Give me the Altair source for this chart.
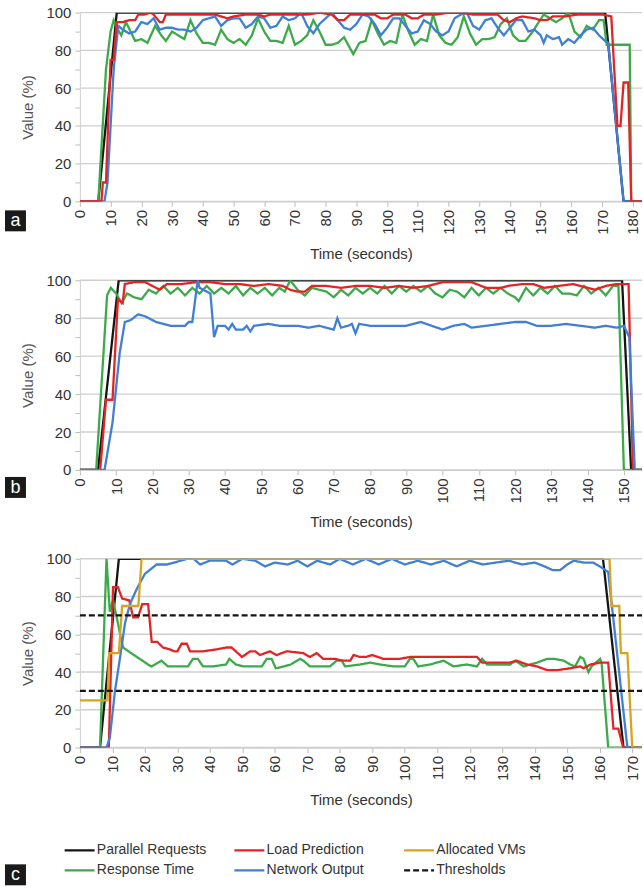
import altair as alt
import pandas as pd

# order chosen so the 3-column legend reads row by row like the reference
SERIES = ["Parallel Requests", "Response Time", "Load Prediction",
          "Network Output", "Allocated VMs", "Thresholds"]
COLORS = ["#141414", "#3caa4a", "#e42424", "#3f80d6", "#d8a420", "#141414"]
DASHES = [[1, 0], [1, 0], [1, 0], [1, 0], [1, 0], [6, 3]]
WIDTHS = [2.3, 2.3, 2.3, 2.3, 2.3, 3.2]

Y_TICKS = [0, 10, 20, 30, 40, 50, 60, 70, 80, 90, 100]
GRID = [0, 20, 40, 60, 80, 100]
A_TICKS = [0, 10, 20, 30, 40, 50, 60, 70, 80, 90, 100, 110, 120, 130, 140, 150, 160, 170, 180]
B_TICKS = [0, 10, 20, 30, 40, 50, 60, 70, 80, 90, 100, 110, 120, 130, 140, 150]
C_TICKS = [0, 10, 20, 30, 40, 50, 60, 70, 80, 90, 100, 110, 120, 130, 140, 150, 160, 170]

# ---------------- panel a ----------------
A_PAR = [(0, 0), (6, 0), (12, 100), (171, 100), (177, 0), (183, 0)]
A_LOAD = [(0, 0), (7, 0), (7.5, 10), (8.5, 10), (10, 75), (11, 75), (12, 95), (14, 95), (16, 96),
          (18, 96), (19, 99), (21, 99), (23, 100), (24, 99), (26, 95), (27, 95), (28, 99), (32, 99),
          (36, 99), (40, 99), (44, 99), (46, 98), (48, 97), (50, 98), (54, 99), (58, 99), (60, 98),
          (62, 99), (66, 99), (70, 99), (74, 99), (78, 100), (82, 99), (84, 96), (86, 96), (88, 99),
          (92, 99), (96, 99), (98, 97), (100, 97), (102, 99), (106, 99), (108, 97), (110, 97),
          (112, 99), (116, 99), (120, 100), (124, 100), (128, 99), (132, 99), (136, 99), (138, 96),
          (140, 95), (142, 97), (144, 98), (148, 97), (150, 96), (152, 96), (154, 98), (158, 98),
          (162, 99), (166, 99), (170, 99), (173, 98), (175, 40), (176, 40), (177, 63), (178.5, 63),
          (179.5, 0), (183, 0)]
A_RESP = [(0, 0), (6, 0), (8.5, 70), (10, 90), (11, 96), (12, 92), (13.5, 88), (15, 95), (16.5, 90),
          (18, 85), (20, 86), (22, 84), (24.5, 93), (26.5, 88), (28, 85), (30, 90), (32, 88), (34, 86),
          (36, 96), (38, 89), (40, 84), (42, 84), (44, 83), (46, 91), (48, 86), (50, 84), (52, 86),
          (54, 83), (56, 88), (58, 97), (60, 90), (62, 85), (64, 85), (66, 84), (68, 93), (70, 83),
          (72, 85), (74, 88), (76, 96), (78, 90), (80, 83), (82, 83), (84, 84), (86, 87), (88, 81),
          (89, 78), (91, 84), (93, 85), (95, 96), (97, 89), (99, 83), (101, 85), (103, 84), (105, 99),
          (107, 90), (109, 83), (111, 86), (113, 85), (115, 99), (117, 88), (119, 84), (121, 83),
          (123, 87), (125, 98), (127, 89), (129, 83), (131, 86), (133, 86), (135, 87), (137, 94),
          (139, 97), (141, 88), (143, 85), (145, 85), (147, 89), (149, 94), (151, 99), (153, 97),
          (155, 95), (157, 97), (159, 100), (161, 90), (163, 87), (165, 93), (167, 91), (169, 96),
          (170.5, 96), (171.5, 83), (179, 83), (179.5, 0), (183, 0)]
A_NET = [(0, 0), (8, 0), (9, 10), (11, 70), (12.5, 93), (14, 91), (16, 89), (18, 90), (20, 95),
         (22, 94), (24, 97), (26, 91), (28, 92), (30, 92), (32, 91), (34, 91), (36, 90), (38, 92),
         (40, 96), (42, 97), (44, 98), (46, 93), (48, 96), (50, 97), (52, 97), (54, 92), (56, 94),
         (58, 98), (60, 97), (62, 92), (64, 93), (66, 98), (68, 96), (70, 97), (72, 100), (74, 93),
         (76, 89), (78, 94), (80, 97), (82, 100), (84, 96), (86, 92), (88, 91), (90, 94), (92, 99),
         (94, 98), (96, 94), (98, 88), (100, 92), (102, 97), (104, 97), (106, 93), (108, 89),
         (110, 90), (112, 96), (114, 94), (116, 90), (118, 88), (120, 90), (122, 97), (124, 99),
         (126, 100), (128, 93), (130, 91), (132, 96), (134, 97), (136, 92), (138, 88), (140, 92),
         (142, 96), (144, 96), (146, 90), (148, 91), (150, 88), (151, 84), (152, 88), (154, 86),
         (156, 87), (157, 83), (159, 86), (161, 84), (163, 88), (165, 91), (167, 92), (169, 88),
         (171, 85), (172, 84), (177, 0), (183, 0)]

# ---------------- panel b ----------------
B_PAR = [(0, 0), (5, 0), (10.7, 100), (149.5, 100), (152, 0), (155, 0)]
B_LOAD = [(0, 0), (5.6, 0), (7.2, 37), (9, 37), (10.5, 90), (11.8, 88), (12.4, 98), (15, 99),
          (18, 99), (20, 97), (22, 95), (24, 98), (28, 98), (32, 99), (36, 99), (40, 98), (44, 98),
          (48, 97), (52, 98), (56, 97), (58, 95), (60, 94), (62, 94), (64, 97), (68, 97), (72, 96),
          (76, 97), (80, 97), (84, 96), (88, 97), (92, 96), (96, 97), (100, 99), (104, 99),
          (108, 99), (112, 96), (116, 96), (118, 97), (122, 98), (125, 98), (128, 96), (132, 97),
          (136, 98), (140, 96), (142, 95), (145, 97), (148, 98), (151.3, 98), (152.5, 0), (155, 0)]
B_RESP = [(0, 0), (4.5, 0), (7.5, 92), (8.5, 96), (10, 93), (11.5, 88), (13, 93), (15, 91),
          (17, 90), (19, 95), (21, 93), (23, 97), (25, 93), (27, 96), (29, 92), (31, 96), (33, 93),
          (35, 97), (37, 93), (39, 96), (41, 93), (43, 97), (45, 92), (47, 96), (49, 93), (51, 96),
          (53, 92), (55, 96), (56.5, 94), (58, 100), (60, 95), (62, 92), (64, 96), (66, 95),
          (68, 94), (70, 91), (72, 95), (74, 92), (76, 96), (78, 93), (80, 96), (82, 93), (84, 97),
          (86, 93), (88, 97), (90, 94), (92, 97), (94, 94), (96, 97), (98, 93), (100, 91),
          (102, 95), (104, 94), (106, 91), (108, 96), (110, 92), (112, 96), (114, 93), (116, 96),
          (118, 93), (120, 91), (121, 89), (123, 96), (125, 92), (127, 96), (129, 93), (131, 97),
          (133, 93), (135, 93), (137, 92), (139, 97), (141, 93), (143, 96), (145, 92), (147, 97),
          (148.5, 97), (150, 0), (155, 0)]
B_NET = [(0, 0), (6.8, 0), (9, 25), (11, 62), (12.4, 78), (14, 79), (16, 82), (18, 81), (19, 80),
         (21, 78), (23, 77), (25, 76), (29, 76), (30, 78), (31, 78), (32.5, 100), (33, 96), (35, 94),
         (36, 93), (37, 70), (38, 76), (40, 76), (41, 74), (42, 77), (43, 74), (45, 74), (46, 76),
         (47, 73), (48, 76), (52, 77), (55, 76), (60, 76), (63, 75), (66, 76), (68, 75), (70, 74),
         (71, 80), (72, 75), (74, 76), (75, 77), (76, 72), (77, 77), (80, 76), (85, 76), (90, 76),
         (94, 78), (97, 76), (100, 74), (103, 76), (106, 77), (108, 75), (112, 76), (116, 77),
         (120, 78), (123, 78), (126, 76), (130, 76), (134, 77), (138, 76), (142, 75), (145, 76),
         (148, 75), (150, 76), (151.5, 70), (153, 0), (155, 0)]

# ---------------- panel c ----------------
C_PAR = [(0, 0), (6.2, 0), (12, 100), (161, 100), (167.3, 0), (173, 0)]
C_VMS = [(0, 25), (8.5, 25), (9, 50), (12, 50), (13, 75), (18, 75), (19, 100), (163, 100),
         (163.6, 75), (166, 75), (166.5, 50), (168.5, 50), (170, 0), (173, 0)]
C_LOAD = [(0, 0), (8.9, 0), (10.2, 85), (11.7, 85), (13, 79), (15.2, 78), (16.4, 69), (17.9, 69),
          (19.2, 76), (21, 76), (22.1, 56), (23.8, 56), (25.6, 53), (27.7, 52), (29, 51), (30, 51),
          (31.3, 55), (32.9, 55), (33.9, 51), (38, 51), (42, 52), (45, 53), (46.7, 53), (49.9, 48),
          (52.4, 51), (54, 51), (55.4, 49), (58.5, 51), (60.5, 49), (63.7, 51), (68.8, 50),
          (70.8, 48), (72.9, 50), (74.9, 47), (78.5, 47), (81, 46), (83.2, 46), (84.2, 49),
          (86.2, 48), (88, 48), (90, 49), (93.4, 47), (98.5, 47), (101.6, 48), (108.8, 48),
          (115, 48), (122.2, 48), (123.8, 45), (132.4, 45), (134.5, 46), (137.6, 44), (140.7, 43),
          (143.8, 41), (146.9, 41), (150.9, 42), (154, 43), (155, 42), (157.1, 44), (160.1, 45),
          (162.6, 45), (164.2, 10), (165.7, 10), (167.2, 0), (173, 0)]
C_RESP = [(0, 0), (6.2, 0), (8.2, 100), (9.2, 72), (10.2, 78), (11.7, 66), (12.5, 59), (13.3, 53),
          (15.8, 50), (18.4, 47), (21, 44), (22, 43), (24.1, 45), (25.1, 46), (27.1, 43), (33.3, 43),
          (34.8, 47), (36.3, 47), (37.9, 43), (41, 43), (45, 44), (46, 47), (48, 44), (50.3, 43),
          (56, 43), (57.5, 47), (59, 47), (60.3, 42), (62.8, 43), (64.9, 44), (67.8, 47), (68.8, 46),
          (70.8, 43), (77, 43), (79, 46), (80.6, 46), (81.6, 43), (86.2, 44), (89.3, 45), (92.4, 44),
          (96.4, 43), (100, 43), (101.6, 47), (102.6, 47), (104.1, 43), (107.8, 44), (111.9, 46),
          (115, 43), (119, 44), (122.2, 43), (123.8, 47), (125.3, 44), (132.4, 44), (134, 46),
          (136.6, 43), (140.7, 45), (143.8, 47), (145.9, 47), (149, 46), (150.9, 44), (152.4, 43),
          (154, 48), (155, 47), (156.5, 40), (157.5, 43), (160.1, 47), (160.6, 44), (162.6, 0),
          (173, 0)]
C_NET = [(0, 0), (8.2, 0), (9.2, 5), (10.8, 30), (12.3, 47), (13.9, 66), (15.4, 76), (17.5, 84),
         (20, 92), (23.6, 97), (26.7, 97), (29, 98), (31, 99), (33, 100), (35, 100), (37, 97),
         (40, 99), (43, 99), (45, 99), (47, 97), (50, 100), (54, 99), (57, 96), (60, 98), (64, 97),
         (67, 99), (70, 96), (73, 99), (77, 97), (80, 100), (84, 97), (88, 100), (92, 97), (96, 100),
         (100, 97), (104, 99), (108, 97), (112, 99), (116, 96), (120, 99), (124, 97), (128, 98),
         (132, 99), (136, 97), (140, 98), (143, 96), (145.5, 94), (147.8, 94), (150, 97), (152, 99),
         (155, 98), (158, 98), (160, 96), (162.6, 93), (168.5, 0), (173, 0)]
C_THR_HI = [(0, 70), (173, 70)]
C_THR_LO = [(0, 30), (173, 30)]

FONT = "Liberation Sans"


def frame(parts):
    rows = []
    for series, line_id, pts in parts:
        for i, (t, v) in enumerate(pts):
            rows.append({"t": t, "v": v, "series": series, "line": line_id, "i": i})
    return pd.DataFrame(rows)


# wide, flat line symbol: path spans twice the nominal symbol width
LEG = alt.Legend(title=None, orient="none", legendX=-13, legendY=830, columns=3,
                 gridAlign="all", symbolType="M-1.5,0H2.5", symbolSize=225,
                 symbolStrokeWidth=2.6, symbolFillColor="transparent",
                 labelFontSize=14, labelColor="#333333", labelFont=FONT,
                 columnPadding=23, rowPadding=4, labelOffset=12, symbolLimit=0)


def panel(parts, xmax, xticks, letter, box_top, h):
    df = frame(parts)
    xaxis = alt.Axis(values=xticks, labelAngle=270, title="Time (seconds)", grid=False,
                     labelOverlap=False, labelFlush=False, tickSize=5, tickColor="#bdbdbd",
                     domainColor="#bdbdbd", labelFontSize=15, labelColor="#333333",
                     labelFont=FONT, titleFont=FONT, titleFontSize=15, titleFontWeight="normal",
                     titleColor="#333333", labelPadding=3, titlePadding=12)
    yaxis = alt.Axis(values=Y_TICKS, labelExpr="datum.value % 20 == 0 ? datum.label : ''",
                     title="Value (%)", grid=False, tickSize=5, tickColor="#bdbdbd",
                     domainColor="#d0d0d0", labelFontSize=15, labelColor="#333333",
                     labelFont=FONT, titleFont=FONT, titleFontSize=15, titleFontWeight="normal",
                     titleColor="#555555", labelFlush=False, labelPadding=4, titlePadding=10)
    xs = alt.X("t:Q", scale=alt.Scale(domain=[0, xmax], nice=False, zero=False), axis=xaxis)
    ys = alt.Y("v:Q", scale=alt.Scale(domain=[0, 100], nice=False), axis=yaxis)

    grid = alt.Chart(pd.DataFrame({"v": GRID})).mark_rule(
        color="#cfcfcf", strokeWidth=1.4).encode(y=ys)
    lines = alt.Chart(df).mark_line(clip=True).encode(
        x=xs, y=ys,
        color=alt.Color("series:N", scale=alt.Scale(domain=SERIES, range=COLORS), legend=LEG),
        strokeDash=alt.StrokeDash("series:N", scale=alt.Scale(domain=SERIES, range=DASHES),
                                  legend=LEG),
        strokeWidth=alt.StrokeWidth("series:N", scale=alt.Scale(domain=SERIES, range=WIDTHS),
                                    legend=None),
        detail="line:N",
        order="i:Q",
    )
    lab = pd.DataFrame({"k": [letter]})
    box = alt.Chart(lab).mark_rect(color="#1a1a1a").encode(
        x=alt.value(-75), x2=alt.value(-54), y=alt.value(box_top), y2=alt.value(box_top + 21))
    txt = alt.Chart(lab).mark_text(color="white", fontSize=18, font=FONT, align="center",
                                   baseline="middle").encode(
        x=alt.value(-64.5), y=alt.value(box_top + 11), text="k:N")
    return alt.layer(grid, lines, box, txt).properties(width=563, height=h)


pa = panel([("Parallel Requests", "par", A_PAR), ("Response Time", "resp", A_RESP),
            ("Network Output", "net", A_NET), ("Load Prediction", "load", A_LOAD)],
           183, A_TICKS, "a", 198, 189)
pb = panel([("Parallel Requests", "par", B_PAR), ("Response Time", "resp", B_RESP),
            ("Load Prediction", "load", B_LOAD), ("Network Output", "net", B_NET)],
           155, B_TICKS, "b", 197, 190)
pc = panel([("Parallel Requests", "par", C_PAR), ("Response Time", "resp", C_RESP),
            ("Load Prediction", "load", C_LOAD), ("Network Output", "net", C_NET),
            ("Allocated VMs", "vms", C_VMS), ("Thresholds", "thr_hi", C_THR_HI),
            ("Thresholds", "thr_lo", C_THR_LO)],
           173, C_TICKS, "c", 306, 189)

top = alt.vconcat(pa, pb, spacing=11).resolve_scale(x="independent", y="independent")
chart = alt.vconcat(top, pc, spacing=21).resolve_scale(
    x="independent", y="independent", color="shared", strokeDash="shared"
).properties(
    padding={"left": 5, "top": 5, "right": 0, "bottom": 0},
    background="white",
).configure_view(stroke=None)

chart.save("out.html", embed_options={"renderer": "svg", "actions": False})
